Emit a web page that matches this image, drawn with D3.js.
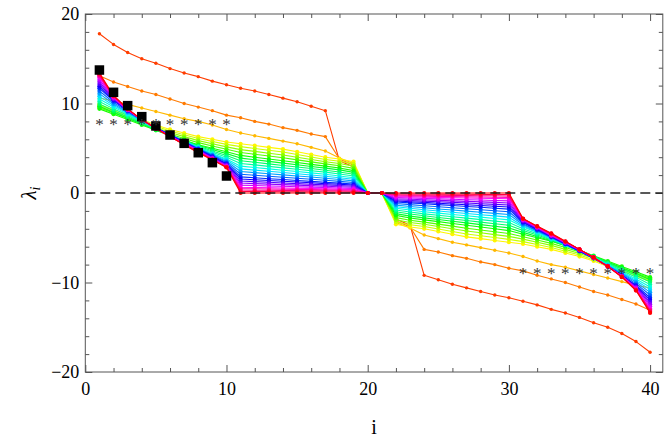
<!DOCTYPE html>
<html>
<head>
<meta charset="utf-8">
<script src="https://cdn.jsdelivr.net/npm/d3@7"></script>
<style>
  html, body { margin: 0; padding: 0; background: #fff; }
  svg { display: block; font-family: "Liberation Serif", "Times New Roman", serif; }
</style>
</head>
<body>
<div id="chart"></div>
<script>
// eigenvalue index
const idx = [1,2,3,4,5,6,7,8,9,10,11,12,13,14,15,16,17,18,19,20,21,22,23,24,25,26,27,28,29,30,31,32,33,34,35,36,37,38,39,40];

// hue of each curve (Mathematica Hue[h])
const hues = [0.04,0.08,0.12,0.16,0.20,0.24,0.28,0.32,0.36,0.40,0.44,0.48,0.52,0.56,0.60,0.64,0.68,0.72,0.76,0.80,0.84,0.88,0.92,0.96,1.00];

const s00 = [17.8,16.6,15.7,15.0,14.5,13.9,13.4,13.0,12.5,12.1,11.7,11.4,11.0,10.6,10.2,9.7,9.2,3.6,2.9,0,0,-2.9,-3.6,-9.2,-9.7,-10.2,-10.6,-11.0,-11.4,-11.7,-12.1,-12.5,-13.0,-13.4,-13.9,-14.5,-15.0,-15.7,-16.6,-17.8];
const s01 = [13.1,12.4,11.9,11.4,11.0,10.5,10.0,9.6,9.2,8.7,8.4,8.0,7.7,7.3,7.0,6.6,6.3,3.8,3.1,0,0,-3.1,-3.8,-6.3,-6.6,-7.0,-7.3,-7.7,-8.0,-8.4,-8.7,-9.2,-9.6,-10.0,-10.5,-11.0,-11.4,-11.9,-12.4,-13.1];
const s02 = [10.6,10.3,9.9,9.5,9.1,8.7,8.3,8.0,7.6,7.1,6.7,6.4,6.1,5.8,5.5,5.1,4.7,3.9,3.3,0,0,-3.3,-3.9,-4.7,-5.1,-5.5,-5.8,-6.1,-6.4,-6.7,-7.1,-7.6,-8.0,-8.3,-8.7,-9.1,-9.5,-9.9,-10.3,-10.6];
const s03 = [9.9,9.3,8.8,8.2,7.6,7.1,6.7,6.3,6.0,5.7,5.5,5.3,5.1,4.9,4.6,4.3,4.0,3.8,3.5,0,0,-3.5,-3.8,-4.0,-4.3,-4.6,-4.9,-5.1,-5.3,-5.5,-5.7,-6.0,-6.3,-6.7,-7.1,-7.6,-8.2,-8.8,-9.3,-9.9];
const s04 = [9.78,9.18,8.65,8.05,7.45,6.93,6.5,6.08,5.75,5.43,5.18,4.98,4.78,4.58,4.3,4.03,3.75,3.55,3.25,0,0,-3.25,-3.55,-3.75,-4.03,-4.3,-4.58,-4.78,-4.98,-5.18,-5.43,-5.75,-6.08,-6.5,-6.93,-7.45,-8.05,-8.65,-9.18,-9.78];
const s05 = [9.65,9.05,8.5,7.9,7.3,6.75,6.3,5.85,5.5,5.15,4.85,4.65,4.45,4.25,4.0,3.75,3.5,3.3,3.0,0,0,-3.0,-3.3,-3.5,-3.75,-4.0,-4.25,-4.45,-4.65,-4.85,-5.15,-5.5,-5.85,-6.3,-6.75,-7.3,-7.9,-8.5,-9.05,-9.65];
const s06 = [9.53,8.93,8.35,7.75,7.15,6.58,6.1,5.63,5.25,4.88,4.53,4.33,4.13,3.93,3.7,3.48,3.25,3.05,2.75,0,0,-2.75,-3.05,-3.25,-3.48,-3.7,-3.93,-4.13,-4.33,-4.53,-4.88,-5.25,-5.63,-6.1,-6.58,-7.15,-7.75,-8.35,-8.93,-9.53];
const s07 = [9.4,8.8,8.2,7.6,7.0,6.4,5.9,5.4,5.0,4.6,4.2,4.0,3.8,3.6,3.4,3.2,3.0,2.8,2.5,0,0,-2.5,-2.8,-3.0,-3.2,-3.4,-3.6,-3.8,-4.0,-4.2,-4.6,-5.0,-5.4,-5.9,-6.4,-7.0,-7.6,-8.2,-8.8,-9.4];
const s08 = [9.68,9.0,8.35,7.7,7.05,6.43,5.88,5.33,4.85,4.4,3.9,3.71,3.53,3.34,3.15,2.96,2.78,2.58,2.3,0,0,-2.3,-2.58,-2.78,-2.96,-3.15,-3.34,-3.53,-3.71,-3.9,-4.4,-4.85,-5.33,-5.88,-6.43,-7.05,-7.7,-8.35,-9.0,-9.68];
const s09 = [9.95,9.2,8.5,7.8,7.1,6.45,5.85,5.25,4.7,4.2,3.6,3.43,3.25,3.08,2.9,2.73,2.55,2.35,2.1,0,0,-2.1,-2.35,-2.55,-2.73,-2.9,-3.08,-3.25,-3.43,-3.6,-4.2,-4.7,-5.25,-5.85,-6.45,-7.1,-7.8,-8.5,-9.2,-9.95];
const s10 = [10.23,9.4,8.65,7.9,7.15,6.48,5.83,5.18,4.55,4.0,3.3,3.14,2.98,2.81,2.65,2.49,2.33,2.13,1.9,0,0,-1.9,-2.13,-2.33,-2.49,-2.65,-2.81,-2.98,-3.14,-3.3,-4.0,-4.55,-5.18,-5.83,-6.48,-7.15,-7.9,-8.65,-9.4,-10.23];
const s11 = [10.5,9.6,8.8,8.0,7.2,6.5,5.8,5.1,4.4,3.8,3.0,2.85,2.7,2.55,2.4,2.25,2.1,1.9,1.7,0,0,-1.7,-1.9,-2.1,-2.25,-2.4,-2.55,-2.7,-2.85,-3.0,-3.8,-4.4,-5.1,-5.8,-6.5,-7.2,-8.0,-8.8,-9.6,-10.5];
const s12 = [10.8,9.78,8.9,8.05,7.23,6.5,5.78,5.05,4.33,3.68,2.7,2.56,2.43,2.29,2.15,2.01,1.88,1.7,1.53,0,0,-1.53,-1.7,-1.88,-2.01,-2.15,-2.29,-2.43,-2.56,-2.7,-3.68,-4.33,-5.05,-5.78,-6.5,-7.23,-8.05,-8.9,-9.78,-10.8];
const s13 = [11.1,9.95,9.0,8.1,7.25,6.5,5.75,5.0,4.25,3.55,2.4,2.28,2.15,2.03,1.9,1.78,1.65,1.5,1.35,0,0,-1.35,-1.5,-1.65,-1.78,-1.9,-2.03,-2.15,-2.28,-2.4,-3.55,-4.25,-5.0,-5.75,-6.5,-7.25,-8.1,-9.0,-9.95,-11.1];
const s14 = [11.4,10.13,9.1,8.15,7.28,6.5,5.73,4.95,4.18,3.43,2.1,1.99,1.88,1.76,1.65,1.54,1.43,1.3,1.18,0,0,-1.18,-1.3,-1.43,-1.54,-1.65,-1.76,-1.88,-1.99,-2.1,-3.43,-4.18,-4.95,-5.73,-6.5,-7.28,-8.15,-9.1,-10.13,-11.4];
const s15 = [11.7,10.3,9.2,8.2,7.3,6.5,5.7,4.9,4.1,3.3,1.8,1.7,1.6,1.5,1.4,1.3,1.2,1.1,1.0,0,0,-1.0,-1.1,-1.2,-1.3,-1.4,-1.5,-1.6,-1.7,-1.8,-3.3,-4.1,-4.9,-5.7,-6.5,-7.3,-8.2,-9.2,-10.3,-11.7];
const s16 = [11.94,10.38,9.22,8.2,7.28,6.46,5.66,4.86,4.04,3.23,1.57,1.48,1.4,1.31,1.23,1.14,1.05,0.97,0.88,0,0,-0.88,-0.97,-1.05,-1.14,-1.23,-1.31,-1.4,-1.48,-1.57,-3.23,-4.04,-4.86,-5.66,-6.46,-7.28,-8.2,-9.22,-10.38,-11.94];
const s17 = [12.18,10.46,9.24,8.2,7.26,6.42,5.62,4.82,3.98,3.16,1.34,1.27,1.2,1.12,1.05,0.98,0.91,0.83,0.76,0,0,-0.76,-0.83,-0.91,-0.98,-1.05,-1.12,-1.2,-1.27,-1.34,-3.16,-3.98,-4.82,-5.62,-6.42,-7.26,-8.2,-9.24,-10.46,-12.18];
const s18 = [12.42,10.54,9.26,8.2,7.24,6.38,5.58,4.78,3.92,3.09,1.11,1.05,0.99,0.94,0.88,0.82,0.76,0.7,0.64,0,0,-0.64,-0.7,-0.76,-0.82,-0.88,-0.94,-0.99,-1.05,-1.11,-3.09,-3.92,-4.78,-5.58,-6.38,-7.24,-8.2,-9.26,-10.54,-12.42];
const s19 = [12.66,10.62,9.28,8.2,7.22,6.34,5.54,4.74,3.86,3.02,0.88,0.84,0.79,0.75,0.7,0.66,0.62,0.56,0.52,0,0,-0.52,-0.56,-0.62,-0.66,-0.7,-0.75,-0.79,-0.84,-0.88,-3.02,-3.86,-4.74,-5.54,-6.34,-7.22,-8.2,-9.28,-10.62,-12.66];
const s20 = [12.9,10.7,9.3,8.2,7.2,6.3,5.5,4.7,3.8,2.95,0.65,0.62,0.59,0.56,0.53,0.5,0.47,0.43,0.4,0,0,-0.4,-0.43,-0.47,-0.5,-0.53,-0.56,-0.59,-0.62,-0.65,-2.95,-3.8,-4.7,-5.5,-6.3,-7.2,-8.2,-9.3,-10.7,-12.9];
const s21 = [13.03,10.75,9.33,8.2,7.2,6.3,5.48,4.65,3.78,2.93,0.49,0.47,0.44,0.42,0.4,0.38,0.35,0.32,0.3,0,0,-0.3,-0.32,-0.35,-0.38,-0.4,-0.42,-0.44,-0.47,-0.49,-2.93,-3.78,-4.65,-5.48,-6.3,-7.2,-8.2,-9.33,-10.75,-13.03];
const s22 = [13.15,10.8,9.35,8.2,7.2,6.3,5.45,4.6,3.75,2.9,0.33,0.31,0.3,0.28,0.27,0.25,0.24,0.22,0.2,0,0,-0.2,-0.22,-0.24,-0.25,-0.27,-0.28,-0.3,-0.31,-0.33,-2.9,-3.75,-4.6,-5.45,-6.3,-7.2,-8.2,-9.35,-10.8,-13.15];
const s23 = [13.28,10.85,9.38,8.2,7.2,6.3,5.43,4.55,3.73,2.88,0.16,0.16,0.15,0.14,0.13,0.13,0.12,0.11,0.1,0,0,-0.1,-0.11,-0.12,-0.13,-0.13,-0.14,-0.15,-0.16,-0.16,-2.88,-3.73,-4.55,-5.43,-6.3,-7.2,-8.2,-9.38,-10.85,-13.28];
const s24 = [13.4,10.9,9.4,8.2,7.2,6.3,5.4,4.5,3.7,2.85,0,0,0,0,0,0,0,0,0,0,0,0,0,0,0,0,0,0,0,0,-2.85,-3.7,-4.5,-5.4,-6.3,-7.2,-8.2,-9.4,-10.9,-13.4];

const series = [s00,s01,s02,s03,s04,s05,s06,s07,s08,s09,s10,s11,s12,s13,s14,s15,s16,s17,s18,s19,s20,s21,s22,s23,s24];

// black squares (reference values)
const squareIdx = [1,2,3,4,5,6,7,8,9,10];
const squareVals = [13.74,11.25,9.76,8.53,7.49,6.48,5.55,4.5,3.39,1.9];

// asterisks
const starLeftIdx = [1,2,3,4,5,6,7,8,9,10];
const starLeftVals = [8.0,8.0,8.0,8.0,8.0,8.0,8.0,8.0,8.0,8.0];
const starRightIdx = [31,32,33,34,35,36,37,38,39,40];
const starRightVals = [-8.6,-8.6,-8.6,-8.6,-8.6,-8.6,-8.6,-8.6,-8.6,-8.6];

const xMajor = [0,10,20,30,40];
const xMinor = [2,4,6,8,12,14,16,18,22,24,26,28,32,34,36,38];
const yMajor = [-20,-10,0,10,20];
const yMinor = [-18,-16,-14,-12,-8,-6,-4,-2,2,4,6,8,12,14,16,18];

const width = 664, height = 441;
const plotLeft = 85.3, plotRight = 662.8, plotTop = 14, plotBottom = 372;
const serif = "'Liberation Serif', 'Times New Roman', serif";

const svg = d3.select("#chart").append("svg")
    .attr("width", width)
    .attr("height", height);

const x = d3.scaleLinear().domain([0, 40.9]).range([plotLeft, plotRight]);
const y = d3.scaleLinear().domain([-20, 20]).range([plotBottom, plotTop]);

const frameColor = "#555";
const fmt = d => d < 0 ? "\u2212" + Math.abs(d) : String(d);

// axes: major ticks with labels, minor ticks without
function addAxis(axisFn, scale, transform, values, size, labels, pad) {
    const g = svg.append("g")
        .attr("transform", transform)
        .call(axisFn(scale).tickValues(values).tickSize(-size)
            .tickPadding(pad || 3)
            .tickFormat(labels ? fmt : ""));
    g.attr("font-family", serif).attr("font-size", 18);
    g.select(".domain").remove();
    g.selectAll(".tick line").attr("stroke", frameColor).attr("stroke-width", 1);
    g.selectAll(".tick text").attr("fill", "#000");
    return g;
}

addAxis(d3.axisBottom, x, `translate(0,${plotBottom})`, xMajor, 7, true, 10);
addAxis(d3.axisBottom, x, `translate(0,${plotBottom})`, xMinor, 4, false);
addAxis(d3.axisTop, x, `translate(0,${plotTop})`, xMajor, 7, false);
addAxis(d3.axisTop, x, `translate(0,${plotTop})`, xMinor, 4, false);
addAxis(d3.axisLeft, y, `translate(${plotLeft},0)`, yMajor, 7, true, 6);
addAxis(d3.axisLeft, y, `translate(${plotLeft},0)`, yMinor, 4, false);
addAxis(d3.axisRight, y, `translate(${plotRight},0)`, yMajor, 7, false);
addAxis(d3.axisRight, y, `translate(${plotRight},0)`, yMinor, 4, false);

svg.append("rect")
    .attr("x", plotLeft).attr("y", plotTop)
    .attr("width", plotRight - plotLeft).attr("height", plotBottom - plotTop)
    .attr("fill", "none")
    .attr("stroke", frameColor)
    .attr("stroke-width", 1);

// clip so nothing spills past the frame
svg.append("clipPath").attr("id", "plotClip")
    .append("rect")
    .attr("x", plotLeft).attr("y", plotTop)
    .attr("width", plotRight - plotLeft).attr("height", plotBottom - plotTop);

const plot = svg.append("g").attr("clip-path", "url(#plotClip)");

const line = d3.line()
    .x((d, i) => x(idx[i]))
    .y(d => y(d));

series.forEach((vals, k) => {
    const color = d3.hsl(hues[k] * 360, 1, 0.5).toString();
    const g = plot.append("g").attr("class", "series");
    g.append("path")
        .datum(vals)
        .attr("fill", "none")
        .attr("stroke", color)
        .attr("stroke-width", 1.1)
        .attr("stroke-linejoin", "round")
        .attr("d", line);
    g.selectAll("circle")
        .data(vals)
        .join("circle")
        .attr("cx", (d, i) => x(idx[i]))
        .attr("cy", d => y(d))
        .attr("r", k < 3 ? 1.7 : 2.1)
        .attr("fill", color);
});

// dashed zero line
plot.append("line")
    .attr("x1", plotLeft).attr("x2", plotRight)
    .attr("y1", y(0)).attr("y2", y(0))
    .attr("stroke", "#222")
    .attr("stroke-width", 1.4)
    .attr("stroke-dasharray", "10,5");

// black squares
const sq = 9.5;
plot.selectAll("rect.sq")
    .data(squareVals)
    .join("rect")
    .attr("class", "sq")
    .attr("x", (d, i) => x(squareIdx[i]) - sq / 2)
    .attr("y", d => y(d) - sq / 2)
    .attr("width", sq)
    .attr("height", sq)
    .attr("fill", "#000");

// asterisks
const starData = starLeftVals.map((v, i) => [starLeftIdx[i], v])
    .concat(starRightVals.map((v, i) => [starRightIdx[i], v]));
plot.selectAll("text.star")
    .data(starData)
    .join("text")
    .attr("class", "star")
    .attr("x", d => x(d[0]))
    .attr("y", d => y(d[1]) + 9)
    .attr("text-anchor", "middle")
    .attr("fill", "#333")
    .attr("font-family", serif)
    .attr("font-size", 17)
    .text("*");

// axis titles
svg.append("text")
    .attr("transform", `translate(36,${y(0)}) rotate(-90)`)
    .attr("text-anchor", "middle")
    .attr("font-family", serif)
    .attr("font-size", 21)
    .style("font-style", "italic")
    .call(t => {
        t.append("tspan").text("\u03bb");
        t.append("tspan").attr("dy", 4).attr("font-size", 14).text("i");
    });

svg.append("text")
    .attr("x", (plotLeft + plotRight) / 2)
    .attr("y", 434)
    .attr("text-anchor", "middle")
    .attr("font-family", serif)
    .attr("font-size", 20)
    .text("i");
</script>
</body>
</html>
